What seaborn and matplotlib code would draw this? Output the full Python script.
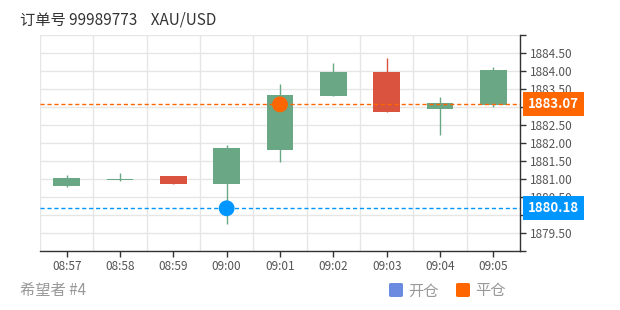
import matplotlib
matplotlib.use("Agg")
import matplotlib.pyplot as plt
import seaborn as sns
import numpy as np
import pandas as pd
from matplotlib.patches import FancyBboxPatch

times = ["08:57", "08:58", "08:59", "09:00", "09:01", "09:02", "09:03", "09:04", "09:05"]
opens = [1880.80, 1880.97, 1881.07, 1880.86, 1881.79, 1883.31, 1883.96, 1882.94, 1883.04]
closes = [1881.02, 1881.00, 1880.86, 1881.86, 1883.33, 1883.98, 1882.85, 1883.12, 1884.02]
highs = [1881.11, 1881.15, 1881.09, 1881.94, 1883.64, 1884.22, 1884.36, 1883.27, 1884.11]
lows = [1880.76, 1880.95, 1880.86, 1879.73, 1881.48, 1883.31, 1882.85, 1882.22, 1883.00]
ytick_labels = [1879.5, 1880.5, 1881.0, 1881.5, 1882.0, 1882.5, 1883.5, 1884.0, 1884.5]
open_time, open_price = "09:00", 1880.18
close_time, close_price = "09:01", 1883.07
title_text = "订单号 99989773    XAU/USD"
footer_text = "希望者 #4"
legend_labels = ["开仓", "平仓"]

UP = "#6aa785"
DOWN = "#d9533f"
BLUE = "#0096ff"
ORANGE = "#ff6600"
LEG_BLUE = "#6b8be0"

sns.set_theme(style="white")
plt.rcParams["font.family"] = ["Noto Sans CJK SC", "DejaVu Sans"]

df = pd.DataFrame({"time": times, "open": opens, "close": closes, "high": highs, "low": lows})
df["x"] = np.arange(len(df))
df["bottom"] = df[["open", "close"]].min(axis=1)
df["height"] = (df["close"] - df["open"]).abs().clip(lower=0.02)
df["color"] = np.where(df["close"] >= df["open"], UP, DOWN)

fig = plt.figure(figsize=(6.2, 3.1), dpi=100)
ax = fig.add_axes([40 / 620, 1 - 250.7 / 310, 480 / 620, (250.7 - 35) / 310])

ax.vlines(df["x"], df["low"], df["high"], colors=df["color"], linewidth=1, zorder=2)
ax.bar(df["x"], df["height"], bottom=df["bottom"], width=0.5, color=df["color"], zorder=3, linewidth=0)

ax.axhline(close_price, color=ORANGE, linestyle=(0, (3, 2)), linewidth=1, zorder=4)
ax.axhline(open_price, color=BLUE, linestyle=(0, (3, 2)), linewidth=1, zorder=4)

mk = pd.DataFrame({"x": [times.index(open_time), times.index(close_time)],
                   "y": [open_price, close_price], "kind": ["open", "close"]})
sns.scatterplot(data=mk, x="x", y="y", hue="kind", palette={"open": BLUE, "close": ORANGE},
                s=130, edgecolor="none", legend=False, ax=ax, zorder=5)

ax.set_xlim(-0.5, len(times) - 0.5)
ax.set_ylim(1879.0, 1885.0)
ax.set_xticks(df["x"])
ax.set_xticklabels(times)
ax.set_xticks(np.arange(-0.5, len(times), 1), minor=True)
ax.yaxis.tick_right()
ygrid = np.arange(1879.0, 1885.01, 0.5)
ax.set_yticks(ygrid)
ax.set_yticklabels([f"{v:.2f}" if any(abs(v - t) < 1e-6 for t in ytick_labels) else "" for v in ygrid])
ax.grid(False)
ax.xaxis.grid(True, which="minor", color="#e6e6e6", linewidth=1)
ax.yaxis.grid(True, which="major", color="#e6e6e6", linewidth=1)
ax.set_axisbelow(True)
ax.set_xlabel("")
ax.set_ylabel("")
ax.tick_params(axis="x", which="major", length=4, width=1, color="#333333", labelsize=8.5,
               labelcolor="#555555", pad=3, direction="out", bottom=True)
ax.tick_params(axis="y", which="major", length=4, width=1, color="#333333", labelsize=8.5,
               labelcolor="#555555", pad=3, direction="out", right=True, left=False)
ax.tick_params(which="minor", length=0)
for s in ["top", "left"]:
    ax.spines[s].set_visible(False)
for s in ["bottom", "right"]:
    ax.spines[s].set_visible(True)
    ax.spines[s].set_color("#333333")
    ax.spines[s].set_linewidth(1)

trans = ax.get_yaxis_transform()
for price, col in [(close_price, ORANGE), (open_price, BLUE)]:
    ax.text(1.016, price, f"{price:.2f}", transform=trans, ha="left", va="center",
            color="white", fontsize=9.5, fontweight="bold", clip_on=False, zorder=10,
            bbox=dict(boxstyle="square,pad=0.38", facecolor=col, edgecolor="none"))

fig.text(20 / 620, 1 - 20 / 310, title_text, ha="left", va="center", fontsize=11, color="#333333")
fig.text(20 / 620, 1 - 291 / 310, footer_text, ha="left", va="center", fontsize=11, color="#999999")

for (x0, lab, col) in [(389, legend_labels[0], LEG_BLUE), (456, legend_labels[1], ORANGE)]:
    fig.patches.append(FancyBboxPatch((x0 / 620, 1 - 297 / 310), 14 / 620, 14 / 310,
                                      boxstyle="round,pad=0,rounding_size=0.004",
                                      transform=fig.transFigure, facecolor=col, edgecolor="none"))
    fig.text((x0 + 19) / 620, 1 - 291 / 310, lab, ha="left", va="center", fontsize=11, color="#999999")

fig.savefig("out.png", dpi=100)
